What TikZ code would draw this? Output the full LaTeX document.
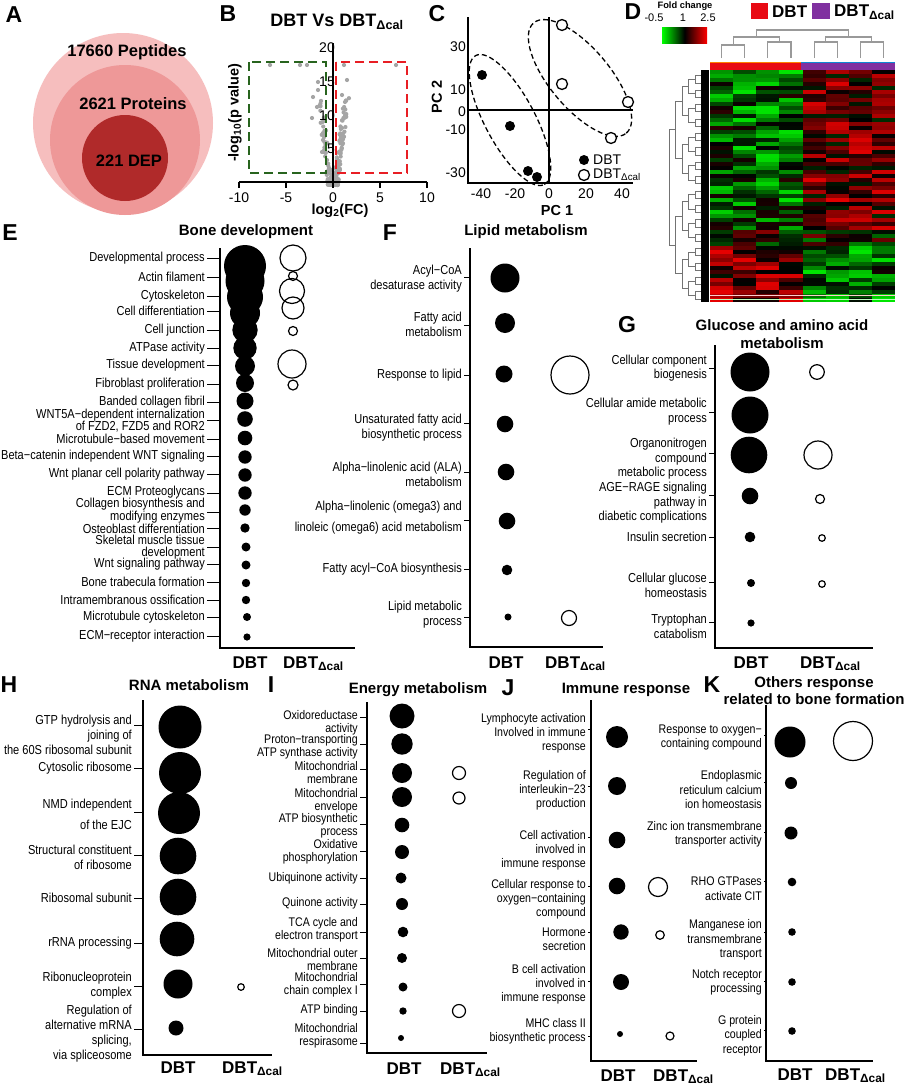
\documentclass[tikz,border=0pt]{standalone}
\usepackage{fontspec}
\setmainfont{Liberation Sans}
\newfontfamily\narrowf[FakeStretch=0.85]{Liberation Sans}
\newcommand\dcal{DBT\textsubscript{Δcal}}
\newcounter{nn}
\definecolor{pkA}{RGB}{246,190,190}
\definecolor{pkB}{RGB}{238,152,152}
\definecolor{pkC}{RGB}{176,42,42}
\definecolor{dgreen}{RGB}{40,100,30}
\definecolor{dred}{RGB}{232,30,36}
\definecolor{vgray}{RGB}{165,165,165}
\definecolor{hpurple}{RGB}{128,48,160}
\definecolor{hred}{RGB}{232,10,20}
\tikzset{
  lbl/.style={font=\narrowf\fontsize{13}{13.5}\selectfont, align=right, inner sep=0pt, anchor=east},
  ttl/.style={font=\bfseries\fontsize{15}{17.5}\selectfont, inner sep=0pt, align=center},
  plet/.style={font=\bfseries\fontsize{23}{23}\selectfont, inner sep=0pt},
  col/.style={font=\bfseries\fontsize{17}{17}\selectfont, inner sep=0pt},
  ax/.style={line width=1.3pt},
  tk/.style={line width=1pt},
  opc/.style={line width=1.2pt},
  atext/.style={font=\bfseries\fontsize{16.5}{16.5}\selectfont, inner sep=0pt},
  tickl/.style={font=\fontsize{14}{14}\selectfont, inner sep=0pt},
  axl/.style={font=\bfseries\fontsize{14.5}{14.5}\selectfont, inner sep=0pt},
  dgram/.style={draw=black!55, line width=0.45pt},
  cgram/.style={draw=black!40, line width=1.2pt},
}
\newcommand\trow[5][10]{%
  \stepcounter{nn}%
  \draw[tk] ({#2-#1+2},#3) -- (#2,#3);
  \node[lbl] (t\arabic{nn}) at ({#2-#1},#4) {#5};}
\newcommand\fdot[3]{\fill (#1,#2) circle (#3pt);}
\newcommand\ocir[3]{\draw[opc] (#1,#2) circle (#3pt);}
\newcommand\colpair[4]{%
  \node[col, anchor=base] (#4a) at (#1,#3) {DBT};
  \node[col, anchor=base west] (#4b) at (#2,#3) {\dcal};}
\begin{document}
\begin{tikzpicture}[x=1pt,y=-1pt]
\useasboundingbox (0,0) rectangle (906,1087);
\fill[white] (0,0) rectangle (906,1087);

% ---------------- A
\node[plet] (pA) at (14,15) {A};
\fill[pkA] (123,123) circle (90pt);
\fill[pkB] (125,140) circle (75pt);
\fill[pkC] (125,158) circle (43pt);
\node[atext] (a1) at (127,52) {17660 Peptides};
\node[atext] (a2) at (133,104) {2621 Proteins};
\node[atext] (a3) at (129,161) {221 DEP};

% ---------------- B
\node[plet] (pB) at (228,14) {B};
\node[font=\bfseries\fontsize{18}{18}\selectfont, inner sep=0pt] (btitle) at (337,22) {DBT Vs \dcal};
\pgfmathsetseed{7}
\foreach \i in {1,...,200}{
  \pgfmathsetmacro\vt{rnd}
  \pgfmathsetmacro\vh{13*\vt^2.2}
  \pgfmathsetmacro\vs{rnd<0.62 ? 1 : -1}
  \pgfmathsetmacro\vx{\vs*(0.09*\vh+0.55*rnd)}
  \fill[vgray] ({333+9.4*\vx},{185-6.7*\vh}) circle (2.1pt);
}
\foreach \px/\py in {270/65,300/65,307/65,344/65,396/65,318/82,347/80,313/97,317/107,312/118,318/90,342/95,345/102,323/140,322/152,327/160}
  \fill[vgray] (\px,\py) circle (2.1pt);
\draw[dgreen, line width=2.2pt, dash pattern=on 9pt off 5pt] (249,62) rectangle (326,173);
\draw[dred, line width=2.2pt, dash pattern=on 9pt off 5pt] (336,62) rectangle (407,173);
\draw[ax] (333,43) -- (333,182);
\draw[ax] (239,182) -- (427,182);
\foreach \xv/\lab in {239/-10,286/-5,333/0,380/5,427/10}{
  \draw[ax] (\xv,182) -- (\xv,188);
  \node[tickl] (bx\xv) at (\xv,198) {\lab};}
\foreach \yv/\lab in {48/20,82/15,116/10,149/5}
  \node[tickl, anchor=east] (by\lab) at (335,\yv) {\lab};
\node[axl, rotate=90] (bylab) at (235,113) {-log\textsubscript{10}(p value)};
\node[axl] (bxlab) at (340,211) {log\textsubscript{2}(FC)};

% ---------------- C
\node[plet] (pC) at (437,14) {C};
\draw[ax] (468,17) -- (468,183) -- (633,183);
\draw[ax] (549,17) -- (549,183);
\draw[ax] (468,110) -- (633,110);
\draw[line width=1.3pt, dash pattern=on 5pt off 3pt, rotate around={-62:(510,120)}] (510,120) ellipse (73pt and 25pt);
\draw[line width=1.3pt, dash pattern=on 5pt off 3pt, rotate around={-50:(580,78)}] (580,78) ellipse (72pt and 30pt);
\foreach \px/\py in {482/75,510/126,528/171,537/177} \fill (\px,\py) circle (5pt);
\foreach \px/\py in {562/25,562/84,628/102,611/138} \draw[line width=1.3pt, fill=white] (\px,\py) circle (5.5pt);
\fill (584,160) circle (5pt);
\draw[line width=1.3pt] (584,175) circle (5.5pt);
\node[tickl, anchor=west] (cl1) at (593,160) {DBT};
\node[tickl, anchor=west] (cl2) at (593,175) {\dcal};
\foreach \xv/\lab in {481/-40,515/-20,549/0,586/20,622/40}
  \node[tickl] (cx\xv) at (\xv,194) {\lab};
\foreach \yv/\lab in {47/30,90/10,112/0,130/-10,173/-30}
  \node[tickl, anchor=east] (cy\yv) at (466,\yv) {\lab};
\node[axl, rotate=90] (cylab) at (437,97) {PC 2};
\node[axl] (cxlab) at (557,211) {PC 1};

% ---------------- D
\node[plet] (pD) at (633,12) {D};
\node[font=\bfseries\fontsize{9.3}{9.3}\selectfont, inner sep=0pt] (foldc) at (685,6) {Fold change};
\node[font=\fontsize{11}{11}\selectfont, inner sep=0pt] (fc1) at (654,18) {-0.5};
\node[font=\fontsize{11}{11}\selectfont, inner sep=0pt] (fc2) at (683,18) {1};
\node[font=\fontsize{11}{11}\selectfont, inner sep=0pt] (fc3) at (708,18) {2.5};
\shade[left color=green, right color=red, middle color=black] (662,27) rectangle (707,43);
\fill[hred] (751,3) rectangle (768,19);
\node[font=\bfseries\fontsize{17}{17}\selectfont, inner sep=0pt, anchor=west] (dl1) at (772,12) {DBT};
\fill[hpurple] (812,3) rectangle (830,19);
\node[font=\bfseries\fontsize{17}{17}\selectfont, inner sep=0pt, anchor=west] (dl2) at (834,12) {\dcal};
% column dendrogram
\draw[cgram] (721.6,58) -- (721.6,45) -- (744.7,45) -- (744.7,58);
\draw[cgram] (767.8,58) -- (767.8,42) -- (791,42) -- (791,58);
\draw[cgram] (733.2,45) -- (733.2,37) -- (779.4,37) -- (779.4,42);
\draw[cgram] (814.1,58) -- (814.1,42) -- (837.2,42) -- (837.2,58);
\draw[cgram] (860.3,58) -- (860.3,42) -- (883.4,42) -- (883.4,58);
\draw[cgram] (825.6,42) -- (825.6,37) -- (871.8,37) -- (871.8,42);
\draw[cgram] (756.3,37) -- (756.3,30) -- (848.7,30) -- (848.7,37);
% group band
\fill[hred] (710,62) rectangle (801,70);
\fill[hpurple] (801,62) rectangle (895,70);
\draw[orange, line width=0.8pt] (710,62) -- (801,62);
\draw[cyan!70!blue, line width=0.8pt] (801,62) -- (895,62);
% heatmap
\pgfmathsetseed{4242}
\foreach \rr in {0,...,57}{
  \foreach \cc in {0,...,7}{
    \pgfmathsetmacro\hb{(\rr<40 ? 0.4 : (\rr<44 ? 0 : -0.5))*(\cc<4 ? -1 : 1)}
    \pgfmathsetmacro\hv{max(-1,min(1,\hb+1.2*(rnd-0.5)))}
    \pgfmathtruncatemacro\hp{abs(\hv)*90}
    \ifdim\hv pt>0pt \colorlet{cellc}{red!\hp!black}\else\colorlet{cellc}{green!\hp!black}\fi
    \fill[cellc] ({710+23.125*\cc},{70+4*\rr}) rectangle ++(23.125,4);
  }
}
\foreach \cc in {0,...,7}{
  \fill[white!80!red] ({710+23.125*\cc},295) rectangle ++(23.125,1.2);
  \fill[white!75!green] ({710+23.125*\cc},299) rectangle ++(23.125,1.2);
}
% row dendrogram
\foreach \lv in {1,...,6}{
  \pgfmathsetmacro\xL{708-6.5*\lv}
  \pgfmathsetmacro\xC{708-6.5*(\lv-1)}
  \pgfmathtruncatemacro\nd{64/(2^\lv)-1}
  \pgfmathsetmacro\sd{3.6*2^(\lv-1)}
  \foreach \jv in {0,...,\nd}{
    \draw[dgram] (\xC,{72+\sd*(2*\jv+0.5)}) -- (\xL,{72+\sd*(2*\jv+0.5)}) -- (\xL,{72+\sd*(2*\jv+1.5)}) -- (\xC,{72+\sd*(2*\jv+1.5)});
  }
}
\fill[black] (701,70) rectangle (709,302);

% ---------------- E
\node[plet] (pE) at (10,233) {E};
\node[ttl] (etitle) at (246,232) {Bone development};
\draw[ax] (220,248) -- (220,648) -- (355,648);
\begin{scope}[lbl/.append style={font=\narrowf\fontsize{13}{12.4}\selectfont}]
\trow[15]{220}{258}{258}{Developmental process}
\trow[15]{220}{277}{277}{Actin filament}
\trow[15]{220}{296}{296}{Cytoskeleton}
\trow[15]{220}{311}{311}{Cell differentiation}
\trow[15]{220}{330}{330}{Cell junction}
\trow[15]{220}{348}{348}{ATPase activity}
\trow[15]{220}{365}{365}{Tissue development}
\trow[15]{220}{384}{384}{Fibroblast proliferation}
\trow[15]{220}{402}{402}{Banded collagen fibril}
\trow[15]{220}{420}{420.5}{WNT5A−dependent internalization\\of FZD2, FZD5 and ROR2}
\trow[15]{220}{439}{439}{Microtubule−based movement}
\trow[15]{220}{456}{456}{Beta−catenin independent WNT signaling}
\trow[15]{220}{474}{474}{Wnt planar cell polarity pathway}
\trow[15]{220}{493}{492.5}{ECM Proteoglycans}
\trow[15]{220}{512}{510.5}{Collagen biosynthesis and\\modifying enzymes}
\trow[15]{220}{528}{528.5}{Osteoblast differentiation}
\trow[15]{220}{547}{547}{Skeletal muscle tissue\\development}
\trow[15]{220}{564}{564.5}{Wnt signaling pathway}
\trow[15]{220}{582}{582}{Bone trabecula formation}
\trow[15]{220}{600}{600}{Intramembranous ossification}
\trow[15]{220}{617}{617}{Microtubule cytoskeleton}
\trow[15]{220}{636}{636}{ECM−receptor interaction}
\end{scope}
\fdot{245}{266}{21}\fdot{245}{281}{19.5}\fdot{245}{297}{18}\fdot{245}{313}{15}
\fdot{245}{330}{12.7}\fdot{245}{348}{11.7}\fdot{245}{366}{10}\fdot{245}{383}{9}
\fdot{245}{401}{8.5}\fdot{245}{419}{7.8}\fdot{245}{438}{7.3}\fdot{245}{457}{6.7}
\fdot{245}{475}{6.7}\fdot{245}{493}{6.7}\fdot{245}{510}{5.7}\fdot{245}{528}{4.7}
\fdot{246}{547}{4.5}\fdot{246}{565}{4.5}\fdot{246}{583}{4.2}\fdot{246}{600}{4.2}
\fdot{247}{617}{4}\fdot{247}{637}{3.6}
\ocir{293}{258}{13}\ocir{293}{276}{4.5}\ocir{292}{291}{12.5}\ocir{293}{308}{11}
\ocir{293}{331}{4.5}\ocir{292}{364}{14}\ocir{293}{385}{5}
\colpair{250}{283}{668}{ec}

% ---------------- F
\node[plet] (pF) at (390,233) {F};
\node[ttl] (ftitle) at (526,232) {Lipid metabolism};
\draw[ax] (470,248) -- (470,647) -- (603,647);
\begin{scope}[lbl/.append style={font=\narrowf\fontsize{13}{15}\selectfont}]
\trow[8]{470}{277}{278.5}{Acyl−CoA\\desaturase activity}
\trow[8]{470}{325}{324.5}{Fatty acid\\metabolism}
\trow[8]{470}{375}{375}{Response to lipid}
\trow[8]{470}{423}{427.5}{Unsaturated fatty acid\\biosynthetic process}
\trow[8]{470}{472}{474.5}{Alpha−linolenic acid (ALA)\\metabolism}
\trow[8]{470}{520}{517.5}{Alpha−linolenic (omega3) and\\[6pt]linoleic (omega6) acid metabolism}
\trow[8]{470}{569}{569}{Fatty acyl−CoA biosynthesis}
\trow[8]{470}{617}{614.5}{Lipid metabolic\\process}
\end{scope}
\fdot{505}{278}{14.5}\fdot{505}{323}{10}\fdot{504}{374}{8.5}\fdot{505}{424}{8.3}
\fdot{506}{472}{8.3}\fdot{507}{521}{8.3}\fdot{507}{570}{5.3}\fdot{508}{617}{3.5}
\ocir{570}{375}{19}\ocir{569}{618}{7.5}
\colpair{506}{545}{668}{fcol}

% ---------------- G
\node[plet] (pG) at (627,325) {G};
\node[ttl] (gtitle) at (782,334) {Glucose and amino acid\\metabolism};
\draw[ax] (715,345) -- (715,648) -- (873,648);
\begin{scope}[lbl/.append style={font=\narrowf\fontsize{13}{14.5}\selectfont}]
\trow[8]{715}{368}{368}{Cellular component\\biogenesis}
\trow[8]{715}{412}{411.5}{Cellular amide metabolic\\process}
\trow[8]{715}{453}{459}{Organonitrogen\\compound\\metabolic process}
\trow[8]{715}{495}{503}{AGE−RAGE signaling\\pathway in\\diabetic complications}
\trow[8]{715}{537}{537}{Insulin secretion}
\trow[8]{715}{582}{585.5}{Cellular glucose\\homeostasis}
\trow[8]{715}{622}{626.5}{Tryptophan\\catabolism}
\end{scope}
\fdot{750}{372}{19.5}\fdot{750}{415}{18.5}\fdot{749}{455}{18.3}\fdot{750}{496}{8.3}
\fdot{750}{537}{5.3}\fdot{751}{583}{4}\fdot{751}{623}{3.6}
\ocir{817}{372}{7.3}\ocir{818}{455}{14}\ocir{820}{499}{4.5}\ocir{822}{538}{3.3}\ocir{822}{584}{3.3}
\colpair{751}{800}{668}{gc}

% ---------------- H
\node[plet] (pH) at (9,685) {H};
\node[ttl] (htitle) at (189,685) {RNA metabolism};
\draw[ax] (143,700) -- (143,1055) -- (272,1055);
\begin{scope}[lbl/.append style={font=\narrowf\fontsize{13}{15}\selectfont}]
\trow[11]{143}{725}{735}{GTP hydrolysis and\\joining of\\the 60S ribosomal subunit}
\trow[11]{143}{768}{768}{Cytosolic ribosome}
\trow[11]{143}{812}{814.5}{NMD independent\\[6pt]of the EJC}
\trow[11]{143}{855}{857.5}{Structural constituent\\of ribosome}
\trow[11]{143}{898}{898}{Ribosomal subunit}
\trow[11]{143}{943}{943}{rRNA processing}
\trow[11]{143}{986}{985.5}{Ribonucleoprotein\\complex}
\trow[11]{143}{1029}{1034}{Regulation of\\alternative mRNA\\splicing,\\via spliceosome}
\end{scope}
\fdot{180}{727}{21.5}\fdot{180}{773}{21}\fdot{179}{813}{21}\fdot{178}{856}{18.3}
\fdot{178}{897}{18.3}\fdot{177}{939}{17.3}\fdot{178}{984}{14.5}\fdot{176}{1028}{7.5}
\ocir{241}{987}{3.3}
\colpair{178}{222}{1073}{hc}

% ---------------- I
\node[plet] (pI) at (271,685) {I};
\node[ttl] (ititle) at (418,690) {Energy metabolism};
\draw[ax] (367,702) -- (367,1053) -- (487,1053);
\begin{scope}[lbl/.append style={font=\narrowf\fontsize{12.5}{13}\selectfont}]
\trow[9]{367}{717}{722.5}{Oxidoreductase\\activity}
\trow[9]{367}{744}{746.5}{Proton−transporting\\ATP synthase activity}
\trow[9]{367}{769}{773}{Mitochondrial\\membrane}
\trow[9]{367}{797}{800.5}{Mitochondrial\\envelope}
\trow[9]{367}{824}{826}{ATP biosynthetic\\process}
\trow[9]{367}{851}{851.5}{Oxidative\\phosphorylation}
\trow[9]{367}{878}{878}{Ubiquinone activity}
\trow[9]{367}{904}{903}{Quinone activity}
\trow[9]{367}{932}{930}{TCA cycle and\\electron transport}
\trow[9]{367}{958}{959.5}{Mitochondrial outer\\membrane}
\trow[9]{367}{984}{985}{Mitochondrial\\chain complex I}
\trow[9]{367}{1011}{1010}{ATP binding}
\trow[9]{367}{1043}{1036}{Mitochondrial\\respirasome}
\end{scope}
\fdot{402}{716}{12.5}\fdot{402}{744}{10.7}\fdot{402}{773}{10}\fdot{402}{797}{10}
\fdot{402}{825}{7.3}\fdot{402}{852}{7}\fdot{401}{878}{5.5}\fdot{402}{904}{6}
\fdot{403}{932}{5.3}\fdot{402}{958}{5}\fdot{403}{987}{4.5}\fdot{403}{1011}{3.7}
\fdot{401}{1038}{3}
\ocir{459}{773}{6.5}\ocir{459}{798}{6}\ocir{459}{1011}{6.5}
\colpair{404}{440}{1074}{ic}

% ---------------- J
\node[plet] (pJ) at (508,688) {J};
\node[ttl] (jtitle) at (626,690) {Immune response};
\draw[ax] (591,700) -- (591,1061) -- (697,1061);
\begin{scope}[lbl/.append style={font=\narrowf\fontsize{12.5}{14}\selectfont}]
\trow[5]{591}{729}{733.5}{Lymphocyte activation\\Involved in immune\\response}
\trow[5]{591}{786}{790}{Regulation of\\interleukin−23\\production}
\trow[5]{591}{837}{850}{Cell activation\\involved in\\immune response}
\trow[5]{591}{886}{899}{Cellular response to\\oxygen−containing\\compound}
\trow[5]{591}{932}{939.5}{Hormone\\secretion}
\trow[5]{591}{981}{984}{B cell activation\\involved in\\immune response}
\trow[5]{591}{1036}{1031.5}{MHC class II\\biosynthetic process}
\end{scope}
\fdot{617}{737}{11}\fdot{617}{786}{9}\fdot{617}{840}{8.3}\fdot{617}{886}{8.3}
\fdot{621}{932}{7.7}\fdot{621}{982}{8}\fdot{620}{1034}{3}
\ocir{658}{887}{9.5}\ocir{660}{935}{4.3}\ocir{670}{1036}{4}
\colpair{618}{653}{1081}{jc}

% ---------------- K
\node[plet] (pK) at (712,685) {K};
\node[ttl] (ktitle) at (814,690.5) {Others response\\related to bone formation};
\draw[ax] (766,705) -- (766,1061) -- (873,1061);
\begin{scope}[lbl/.append style={font=\narrowf\fontsize{12.5}{14.5}\selectfont}]
\trow[4]{766}{735}{737.5}{Response to oxygen−\\containing compound}
\trow[4]{766}{782}{790}{Endoplasmic\\reticulum calcium\\ion homeostasis}
\trow[4]{766}{832}{834.5}{Zinc ion transmembrane\\transporter activity}
\trow[4]{766}{881}{888.5}{RHO GTPases\\activate CIT}
\trow[4]{766}{932}{940}{Manganese ion\\transmembrane\\transport}
\trow[4]{766}{981}{982.5}{Notch receptor\\processing}
\trow[4]{766}{1030}{1035.5}{G protein\\coupled\\receptor}
\end{scope}
\fdot{790}{742}{15.5}\fdot{791}{783}{6}\fdot{791}{833}{6.5}\fdot{792}{882}{4.3}
\fdot{792}{932}{3.8}\fdot{792}{982}{3.8}\fdot{792}{1031}{3.8}
\ocir{853}{741}{19.5}
\colpair{795}{825}{1080}{kc}
\end{tikzpicture}
\end{document}
